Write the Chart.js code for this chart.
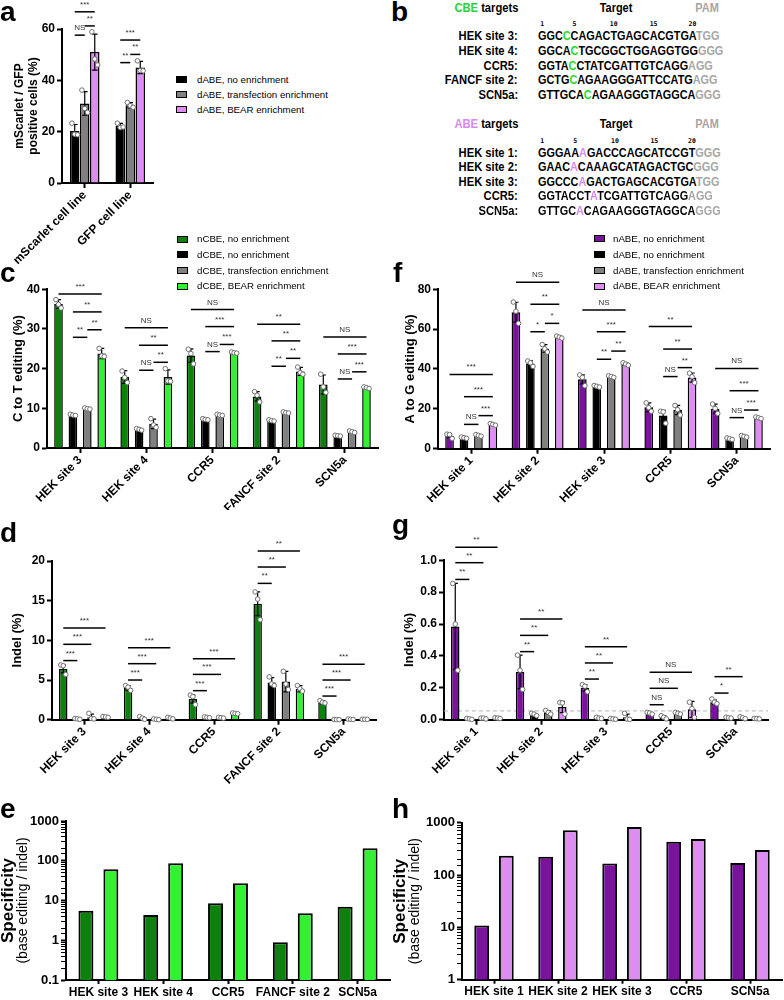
<!DOCTYPE html>
<html>
<head>
<meta charset="utf-8">
<script src="https://cdn.jsdelivr.net/npm/chart.js@4.4.0/dist/chart.umd.min.js"></script>
<style>
  body { margin: 0; width: 784px; height: 1000px; position: relative; overflow: hidden; background: #fff;
         font-family: 'Liberation Sans', Arial, sans-serif; color: #000; }
  canvas { position: absolute; }
  .txt { position: absolute; white-space: nowrap; line-height: 14px; font-size: 13px; font-weight: bold; }
  .letter { position: absolute; font-size: 28px; line-height: 28px; font-weight: bold; }
  .lg-box { position: absolute; width: 9px; height: 5px; border: 1px solid #000; }
  .lg-txt { position: absolute; white-space: nowrap; font-size: 9.7px; line-height: 12px; }
</style>
</head>
<body>
<script>
// ---- Shared labels ----
const cbeSites = ['HEK site 3', 'HEK site 4', 'CCR5', 'FANCF site 2', 'SCN5a'];
const abeSites = ['HEK site 1', 'HEK site 2', 'HEK site 3', 'CCR5', 'SCN5a'];
const cbeLegend = ['nCBE, no enrichment', 'dCBE, no enrichment', 'dCBE, transfection enrichment', 'dCBE, BEAR enrichment'];
const abeLegend = ['nABE, no enrichment', 'dABE, no enrichment', 'dABE, transfection enrichment', 'dABE, BEAR enrichment'];

// ---- a: mScarlet / GFP positive cells (%) ----
const aLines = ['mScarlet cell line', 'GFP cell line'];
const aLegend = ['dABE, no enrichment', 'dABE, transfection enrichment', 'dABE, BEAR enrichment'];
const aNone = [20.3, 22.2], aNoneSd = [2.5, 1.0], aNoneReps = [[23.3, 19.0, 18.8], [23.3, 21.6, 21.8]];
const aTrans = [31.0, 30.3], aTransSd = [4.6, 1.0], aTransReps = [[36.2, 29.0, 27.5], [31.4, 30.1, 29.5]];
const aBear = [51.0, 45.0], aBearSd = [7.0, 2.4], aBearReps = [[58.9, 48.3, 46.0], [47.6, 43.8, 43.7]];
const aBrackets = [[0, 0, 2, 66.7, '***'], [0, 1, 2, 61.2, '**'], [0, 0, 1, 57.6, 'NS'],
                   [1, 0, 2, 55.7, '***'], [1, 1, 2, 50.1, '**'], [1, 0, 1, 46.9, '**']];

// ---- b: target sequences ----
const seqTicks = [1, 5, 10, 15, 20];
const cbeNames = ['HEK site 3:', 'HEK site 4:', 'CCR5:', 'FANCF site 2:', 'SCN5a:'];
const cbeTargets = ['GGCCCAGACTGAGCACGTGA', 'GGCACTGCGGCTGGAGGTGG', 'GGTACCTATCGATTGTCAGG', 'GCTGCAGAAGGGATTCCATG', 'GTTGCACAGAAGGGTAGGCA'];
const cbePams = ['TGG', 'GGG', 'AGG', 'AGG', 'GGG'];
const cbeEdited = [4, 5, 5, 5, 7];
const abeNames = ['HEK site 1:', 'HEK site 2:', 'HEK site 3:', 'CCR5:', 'SCN5a:'];
const abeTargets = ['GGGAAAGACCCAGCATCCGT', 'GAACACAAAGCATAGACTGC', 'GGCCCAGACTGAGCACGTGA', 'GGTACCTATCGATTGTCAGG', 'GTTGCACAGAAGGGTAGGCA'];
const abePams = ['GGG', 'GGG', 'TGG', 'AGG', 'GGG'];
const abeEdited = [6, 5, 6, 8, 6];

// ---- c: C to T editing (%) ----
const cNcbe = [36.3, 17.9, 23.3, 13.0, 16.0], cNcbeSd = [1.1, 1.6, 1.7, 1.2, 2.4];
const cNcbeReps = [[37.4, 36.2, 35.3], [19.4, 17.8, 16.5], [24.9, 23.8, 21.2], [14.2, 13.3, 11.6], [18.6, 15.4, 14.0]];
const cDcbe = [8.3, 4.7, 7.2, 6.9, 3.1], cDcbeSd = [0.2, 0.2, 0.2, 0.2, 0.1];
const cDcbeReps = [[8.5, 8.3, 8.2], [4.9, 4.7, 4.5], [7.4, 7.2, 7.1], [7.1, 6.9, 6.8], [3.2, 3.1, 3.0]];
const cTrans = [9.9, 6.1, 8.3, 8.9, 4.1], cTransSd = [0.2, 1.2, 0.2, 0.2, 0.2];
const cTransReps = [[10.1, 9.9, 9.8], [7.4, 5.8, 5.2], [8.5, 8.3, 8.2], [9.1, 8.9, 8.8], [4.3, 4.1, 3.9]];
const cBear = [23.8, 17.9, 24.0, 19.3, 15.2], cBearSd = [1.3, 1.8, 0.2, 1.0, 0.2];
const cBearReps = [[25.1, 23.2, 23.1], [20.0, 16.9, 16.8], [24.2, 24.0, 23.9], [20.4, 19.0, 18.6], [15.4, 15.2, 15.0]];
const cBrackets = [
  [0, 0, 3, 38.8, '***'], [0, 1, 3, 34.3, '**'], [0, 2, 3, 29.8, '**'], [0, 1, 2, 27.9, '**'],
  [1, 0, 3, 30.3, 'NS'], [1, 1, 3, 25.9, '**'], [1, 2, 3, 21.6, '**'], [1, 1, 2, 19.6, 'NS'],
  [2, 0, 3, 34.9, 'NS'], [2, 1, 3, 30.6, '***'], [2, 2, 3, 26.1, '***'], [2, 1, 2, 24.3, 'NS'],
  [3, 0, 3, 31.2, '**'], [3, 1, 3, 27.0, '**'], [3, 2, 3, 22.6, '**'], [3, 1, 2, 20.6, '**'],
  [4, 0, 3, 28.0, 'NS'], [4, 1, 3, 23.7, '***'], [4, 2, 3, 19.2, '***'], [4, 1, 2, 17.4, 'NS']];

// ---- d: CBE indel (%) ----
const dNcbe = [6.4, 4.0, 2.6, 14.6, 2.2], dNcbeSd = [0.5, 0.3, 0.5, 1.5, 0.2];
const dNcbeReps = [[6.9, 6.8, 5.7], [4.3, 4.1, 3.7], [3.1, 2.9, 1.9], [16.1, 15.2, 12.6], [2.4, 2.2, 2.1]];
const dDcbe = [0.1, 0.2, 0.3, 4.7, 0.01], dDcbeSd = [0.05, 0.15, 0.05, 0.6, 0.01];
const dDcbeReps = [[0.15, 0.1, 0.05], [0.4, 0.2, 0.05], [0.35, 0.3, 0.25], [5.4, 4.5, 4.3], [0.02, 0.01, 0.01]];
const dTrans = [0.3, 0.05, 0.25, 4.8, 0.05], dTransSd = [0.4, 0.05, 0.05, 1.3, 0.03];
const dTransReps = [[0.8, 0.15, 0.1], [0.1, 0.05, 0.0], [0.3, 0.25, 0.2], [6.1, 4.5, 3.8], [0.08, 0.05, 0.03]];
const dBear = [0.35, 0.2, 0.8, 3.9, 0.05], dBearSd = [0.05, 0.1, 0.05, 0.4, 0.01];
const dBearReps = [[0.4, 0.35, 0.3], [0.3, 0.2, 0.1], [0.85, 0.8, 0.75], [4.3, 3.9, 3.6], [0.06, 0.05, 0.04]];
const dBrackets = [
  [0, 0, 3, 11.55, '***'], [0, 0, 2, 9.5, '***'], [0, 0, 1, 7.45, '***'],
  [1, 0, 3, 9.08, '***'], [1, 0, 2, 7.06, '***'], [1, 0, 1, 5.0, '***'],
  [2, 0, 3, 7.69, '***'], [2, 0, 2, 5.71, '***'], [2, 0, 1, 3.66, '***'],
  [3, 0, 3, 21.26, '**'], [3, 0, 2, 19.24, '**'], [3, 0, 1, 17.18, '**'],
  [4, 0, 3, 7.0, '***'], [4, 0, 2, 5.0, '***'], [4, 0, 1, 2.98, '***']];

// ---- e: CBE specificity ----
const eNcbe = [5.5, 4.3, 8.5, 0.89, 7.0];
const eBear = [61, 86, 27, 4.8, 206];

// ---- f: A to G editing (%) ----
const fNabe = [6.5, 68.5, 34.8, 20.8, 20.1], fNabeSd = [1.0, 5.0, 2.3, 2.2, 2.3];
const fNabeReps = [[7.3, 7.1, 5.1], [73.6, 69.0, 62.9], [37.0, 35.8, 31.6], [23.0, 20.6, 18.8], [22.4, 20.2, 17.7]];
const fDabe = [5.5, 42.8, 31.3, 16.7, 5.0], fDabeSd = [0.3, 1.3, 0.4, 2.6, 0.4];
const fDabeReps = [[5.8, 5.5, 5.2], [44.0, 43.1, 41.3], [31.7, 31.3, 30.9], [18.8, 18.5, 12.8], [5.4, 5.0, 4.6]];
const fTrans = [6.7, 50.3, 36.2, 19.4, 6.2], fTransSd = [0.4, 1.9, 0.4, 2.3, 0.4];
const fTransReps = [[7.1, 6.7, 6.3], [52.3, 50.1, 48.5], [36.6, 36.2, 35.8], [21.7, 19.6, 16.9], [6.6, 6.2, 5.8]];
const fBear = [12.2, 56.0, 42.5, 35.7, 15.5], fBearSd = [0.4, 0.5, 0.6, 2.3, 0.4];
const fBearReps = [[12.6, 12.2, 11.8], [56.5, 56.0, 55.5], [43.1, 42.5, 41.9], [37.9, 36.1, 33.1], [15.9, 15.5, 15.1]];
const fBrackets = [
  [0, 0, 3, 37.3, '***'], [0, 1, 3, 26.1, '***'], [0, 2, 3, 16.6, '***'], [0, 1, 2, 12.2, 'NS'],
  [1, 0, 3, 83.5, 'NS'], [1, 1, 3, 72.5, '**'], [1, 2, 3, 62.9, '*'], [1, 1, 2, 58.7, '*'],
  [2, 0, 3, 69.6, 'NS'], [2, 1, 3, 58.7, '***'], [2, 2, 3, 49.0, '**'], [2, 1, 2, 44.9, '**'],
  [3, 0, 3, 61.3, '**'], [3, 1, 3, 50.0, '**'], [3, 2, 3, 40.7, '**'], [3, 1, 2, 36.2, 'NS'],
  [4, 0, 3, 40.3, 'NS'], [4, 1, 3, 29.1, '***'], [4, 2, 3, 19.4, '***'], [4, 1, 2, 15.6, 'NS']];

// ---- g: ABE indel (%) ----
const gNabe = [0.585, 0.30, 0.20, 0.04, 0.11], gNabeSd = [0.27, 0.105, 0.02, 0.005, 0.013];
const gNabeReps = [[0.855, 0.60, 0.31], [0.405, 0.31, 0.19], [0.22, 0.21, 0.175], [0.046, 0.042, 0.035], [0.13, 0.11, 0.10]];
const gDabe = [0.005, 0.03, 0.01, 0.015, 0.012], gDabeSd = [0.003, 0.008, 0.005, 0.01, 0.004];
const gDabeReps = [[0.008, 0.005, 0.002], [0.04, 0.035, 0.025], [0.015, 0.01, 0.008], [0.025, 0.015, 0.005], [0.016, 0.012, 0.01]];
const gTrans = [0.008, 0.045, 0.005, 0.04, 0.012], gTransSd = [0.003, 0.01, 0.003, 0.006, 0.005];
const gTransReps = [[0.01, 0.01, 0.005], [0.058, 0.045, 0.035], [0.008, 0.005, 0.003], [0.046, 0.04, 0.035], [0.018, 0.012, 0.006]];
const gBear = [0.01, 0.08, 0.015, 0.065, 0.007], gBearSd = [0.002, 0.035, 0.02, 0.05, 0.002];
const gBearReps = [[0.012, 0.01, 0.008], [0.108, 0.105, 0.035], [0.04, 0.004, 0.002], [0.11, 0.07, 0.015], [0.008, 0.007, 0.005]];
const gBrackets = [
  [0, 0, 3, 1.082, '**'], [0, 0, 2, 0.985, '**'], [0, 0, 1, 0.88, '**'],
  [1, 0, 3, 0.632, '**'], [1, 0, 2, 0.529, '**'], [1, 0, 1, 0.427, '**'],
  [2, 0, 3, 0.458, '**'], [2, 0, 2, 0.356, '**'], [2, 0, 1, 0.255, '**'],
  [3, 0, 3, 0.297, 'NS'], [3, 0, 2, 0.197, 'NS'], [3, 0, 1, 0.094, 'NS'],
  [4, 0, 2, 0.27, '**'], [4, 0, 1, 0.167, '*']];
const gDetectLimit = 0.055;

// ---- h: ABE specificity ----
const hNabe = [10.8, 224, 167, 433, 169];
const hBear = [234, 714, 826, 488, 301];

// ---- colours ----
const DK_GREEN = '#0d800d', LT_GREEN = '#33f033', GREY = '#808080', PURPLE = '#7a129e', PINK = '#dd8cf2';

Chart.defaults.font.family = "'Liberation Sans', Arial, sans-serif";
Chart.defaults.color = '#000';

function isDecade(v) {
  const l = Math.log10(v);
  return Math.abs(l - Math.round(l)) < 1e-6;
}

// error bars, replicate dots, significance brackets, extra axis titles
function decor(o) {
  return {
    id: 'decor',
    beforeDatasetsDraw(chart) {
      if (o.limit == null) return;
      const ctx = chart.ctx, a = chart.chartArea, py = chart.scales.y.getPixelForValue(o.limit);
      ctx.save();
      ctx.setLineDash([4, 3]); ctx.strokeStyle = '#b5b5b5'; ctx.lineWidth = 1;
      ctx.beginPath(); ctx.moveTo(a.left, py); ctx.lineTo(a.right, py); ctx.stroke();
      ctx.restore();
    },
    afterDatasetsDraw(chart) {
      const ctx = chart.ctx, ys = chart.scales.y;
      ctx.save();
      chart.data.datasets.forEach((ds, di) => {
        chart.getDatasetMeta(di).data.forEach((bar, i) => {
          const w = bar.width;
          if (ds.sd) {
            const m = ds.data[i], s = ds.sd[i];
            const top = ys.getPixelForValue(m + s);
            const low = m - s > ys.min;
            const bot = ys.getPixelForValue(low ? m - s : ys.min);
            ctx.strokeStyle = '#000'; ctx.lineWidth = 1.2;
            ctx.beginPath();
            ctx.moveTo(bar.x, top); ctx.lineTo(bar.x, bot);
            ctx.moveTo(bar.x - w * 0.3, top); ctx.lineTo(bar.x + w * 0.3, top);
            if (low) { ctx.moveTo(bar.x - w * 0.3, bot); ctx.lineTo(bar.x + w * 0.3, bot); }
            ctx.stroke();
          }
          if (ds.reps) {
            ds.reps[i].forEach((v, k) => {
              ctx.beginPath();
              ctx.arc(bar.x + (k - 1) * w * 0.3, ys.getPixelForValue(v), 2.3, 0, Math.PI * 2);
              ctx.fillStyle = '#fff'; ctx.fill();
              ctx.strokeStyle = '#707070'; ctx.lineWidth = 1; ctx.stroke();
            });
          }
        });
      });
      (o.brackets || []).forEach(([g, a, b, v, label]) => {
        const xa = chart.getDatasetMeta(a).data[g].x, xb = chart.getDatasetMeta(b).data[g].x;
        const py = ys.getPixelForValue(v);
        ctx.strokeStyle = '#000'; ctx.lineWidth = 1.5;
        ctx.beginPath(); ctx.moveTo(xa, py); ctx.lineTo(xb, py); ctx.stroke();
        ctx.fillStyle = '#333'; ctx.font = "8px 'Liberation Sans', Arial";
        ctx.textAlign = 'center'; ctx.textBaseline = 'alphabetic';
        ctx.fillText(label, (xa + xb) / 2, py - 5);
      });
      ctx.restore();
    },
    afterDraw(chart) {
      if (!o.titles) return;
      const ctx = chart.ctx, a = chart.chartArea;
      o.titles.forEach(([text, x, font]) => {
        ctx.save();
        ctx.translate(x, (a.top + a.bottom) / 2);
        ctx.rotate(-Math.PI / 2);
        ctx.font = font; ctx.fillStyle = '#000';
        ctx.textAlign = 'center'; ctx.textBaseline = 'middle';
        ctx.fillText(text, 0, 0);
        ctx.restore();
      });
    }
  };
}

function barChart(box, labels, series, o) {
  const cv = document.createElement('canvas');
  cv.width = box.w; cv.height = box.h;
  cv.style.left = box.x + 'px'; cv.style.top = box.y + 'px';
  document.body.appendChild(cv);

  const yTicks = { autoSkip: false, color: '#000', font: { size: o.tickSize || 12, weight: 'bold' }, padding: 2 };
  if (o.step) yTicks.stepSize = o.step;
  if (o.fmt) yTicks.callback = o.fmt;
  const yGrid = { drawOnChartArea: false, tickLength: 5, tickColor: '#000', tickWidth: 2 };
  if (o.log) yGrid.tickWidth = c => (c.tick && isDecade(c.tick.value) ? 2 : 1);

  return new Chart(cv, {
    type: 'bar',
    data: {
      labels,
      datasets: series.map(s => ({
        label: s.label, data: s.data, sd: s.sd, reps: s.reps,
        backgroundColor: s.color, borderColor: '#000', borderWidth: o.bw || 1.5,
        categoryPercentage: o.cat, barPercentage: o.bar
      }))
    },
    options: {
      responsive: false, animation: false, devicePixelRatio: 1,
      layout: { padding: { top: box.top, right: box.right, left: 0, bottom: 0 } },
      plugins: { legend: { display: false }, tooltip: { enabled: false } },
      scales: {
        x: {
          offset: true,
          ticks: { color: '#000', font: { size: 12, weight: 'bold' }, minRotation: o.rot, maxRotation: o.rot, autoSkip: false, padding: o.rot ? 0 : 1 },
          grid: { offset: false, drawOnChartArea: false, tickLength: o.rot ? 5 : 4, tickColor: '#000', tickWidth: 2 },
          border: { color: '#000', width: 2 },
          afterFit: s => { s.height = box.xH; s.paddingLeft = 0; s.paddingRight = 0; }
        },
        y: {
          type: o.log ? 'logarithmic' : 'linear',
          min: o.min, max: o.max,
          ticks: yTicks,
          grid: yGrid,
          border: { color: '#000', width: 2 },
          title: { display: !!o.title, text: o.title || '', color: '#000', font: { size: o.titleSize || 13, weight: 'bold' }, padding: { top: o.titlePad || 0, bottom: 0 } },
          afterFit: s => { s.width = box.yW; }
        }
      }
    },
    plugins: [decor(o)]
  });
}

// ---- text helpers ----
function addText(html, css, cls) {
  const d = document.createElement('div');
  d.className = cls || 'txt';
  d.innerHTML = html;
  Object.assign(d.style, css);
  document.body.appendChild(d);
  return d;
}

function legend(boxLeft, txtLeft, centers, labels, colors) {
  labels.forEach((t, i) => {
    const b = document.createElement('div');
    b.className = 'lg-box';
    b.style.left = boxLeft + 'px'; b.style.top = (centers[i] - 3.5) + 'px'; b.style.background = colors[i];
    document.body.appendChild(b);
    addText(t, { left: txtLeft + 'px', top: (centers[i] - 6) + 'px' }, 'lg-txt');
  });
}

// base: y of the header text baseline
function seqBlock(base, tag, tagColor, names, targets, pams, edited, hiColor) {
  const narrow = { transform: 'scaleX(0.86)', transformOrigin: 'right center' };
  addText(`<span style="color:${tagColor}">${tag}</span> targets`, Object.assign({ right: '266px', top: (base - 11.5) + 'px' }, narrow));
  addText('Target', { left: '616px', top: (base - 11.5) + 'px', transform: 'translateX(-50%) scaleX(0.84)' });
  addText('PAM', { left: '707px', top: (base - 11.5) + 'px', color: '#a6a6a6', transform: 'translateX(-50%) scaleX(0.84)' });
  let first = null;
  names.forEach((nm, i) => {
    const bl = base + 28.8 + i * 14.6;
    addText(nm, Object.assign({ right: '266px', top: (bl - 11.5) + 'px' }, narrow));
    const chars = targets[i].split('').map((ch, k) =>
      k + 1 === edited[i] ? `<span style="color:${hiColor}">${ch}</span>` : `<span>${ch}</span>`).join('');
    const row = addText(chars + `<span style="color:#a6a6a6">${pams[i]}</span>`,
      { left: '538px', top: (bl - 11.5) + 'px', transform: 'scaleX(0.835)', transformOrigin: 'left center' });
    if (!first) first = row;
  });
  seqTicks.forEach(n => {
    const r = first.children[n - 1].getBoundingClientRect();
    addText(String(n), { left: (r.left + r.width / 2) + 'px', top: (base + 14.5 - 6.3) + 'px', fontSize: '6.5px', lineHeight: '8px',
      fontFamily: "'DejaVu Sans Mono', monospace", transform: 'translateX(-50%)' });
  });
}

// ---- a ----
barChart({ x: 0, y: 0, w: 175, h: 265, top: 29, right: 22, yW: 62, xH: 82 }, aLines, [
  { label: aLegend[0], data: aNone, sd: aNoneSd, reps: aNoneReps, color: '#000' },
  { label: aLegend[1], data: aTrans, sd: aTransSd, reps: aTransReps, color: GREY },
  { label: aLegend[2], data: aBear, sd: aBearSd, reps: aBearReps, color: PINK }
], { min: 0, max: 60, step: 20, rot: 45, cat: 0.66, bar: 0.95, title: ['mScarlet / GFP', 'positive cells (%)'], titleSize: 12, titlePad: 12, brackets: aBrackets });

// ---- c ----
barChart({ x: 0, y: 250, w: 392, h: 260, top: 39.3, right: 14, yW: 47, xH: 62 }, cbeSites, [
  { label: cbeLegend[0], data: cNcbe, sd: cNcbeSd, reps: cNcbeReps, color: DK_GREEN },
  { label: cbeLegend[1], data: cDcbe, sd: cDcbeSd, reps: cDcbeReps, color: '#000' },
  { label: cbeLegend[2], data: cTrans, sd: cTransSd, reps: cTransReps, color: GREY },
  { label: cbeLegend[3], data: cBear, sd: cBearSd, reps: cBearReps, color: LT_GREEN }
], { min: 0, max: 40, step: 10, rot: 45, cat: 0.87, bar: 0.6, title: 'C to T editing (%)', titlePad: 11, brackets: cBrackets });

// ---- f ----
barChart({ x: 392, y: 250, w: 392, h: 260, top: 39.3, right: 14, yW: 46, xH: 61.3 }, abeSites, [
  { label: abeLegend[0], data: fNabe, sd: fNabeSd, reps: fNabeReps, color: PURPLE },
  { label: abeLegend[1], data: fDabe, sd: fDabeSd, reps: fDabeReps, color: '#000' },
  { label: abeLegend[2], data: fTrans, sd: fTransSd, reps: fTransReps, color: GREY },
  { label: abeLegend[3], data: fBear, sd: fBearSd, reps: fBearReps, color: PINK }
], { min: 0, max: 80, step: 20, rot: 45, cat: 0.87, bar: 0.6, title: 'A to G editing (%)', titlePad: 11, brackets: fBrackets });

// ---- d ----
barChart({ x: 0, y: 510, w: 392, h: 280, top: 51, right: 16, yW: 52, xH: 70.3 }, cbeSites, [
  { label: cbeLegend[0], data: dNcbe, sd: dNcbeSd, reps: dNcbeReps, color: DK_GREEN },
  { label: cbeLegend[1], data: dDcbe, sd: dDcbeSd, reps: dDcbeReps, color: '#000' },
  { label: cbeLegend[2], data: dTrans, sd: dTransSd, reps: dTransReps, color: GREY },
  { label: cbeLegend[3], data: dBear, sd: dBearSd, reps: dBearReps, color: LT_GREEN }
], { min: 0, max: 20, step: 5, rot: 45, cat: 0.87, bar: 0.6, title: 'Indel (%)', titlePad: 10, brackets: dBrackets });

// ---- g ----
barChart({ x: 392, y: 510, w: 392, h: 280, top: 50.3, right: 16, yW: 52, xH: 70.3 }, abeSites, [
  { label: abeLegend[0], data: gNabe, sd: gNabeSd, reps: gNabeReps, color: PURPLE },
  { label: abeLegend[1], data: gDabe, sd: gDabeSd, reps: gDabeReps, color: '#000' },
  { label: abeLegend[2], data: gTrans, sd: gTransSd, reps: gTransReps, color: GREY },
  { label: abeLegend[3], data: gBear, sd: gBearSd, reps: gBearReps, color: PINK }
], { min: 0, max: 1.0, step: 0.2, fmt: v => v.toFixed(1), rot: 45, cat: 0.87, bar: 0.6, title: 'Indel (%)', titlePad: 10, brackets: gBrackets, limit: gDetectLimit });

// ---- e / h: two-line specificity titles drawn by the plugin ----
const specTitles = [['Specificity', 8, "bold 17px 'Liberation Sans', Arial"], ['(base editing / indel)', 23, "14px 'Liberation Sans', Arial"]];

barChart({ x: 0, y: 790, w: 392, h: 210, top: 31, right: 2, yW: 66, xH: 20 }, cbeSites, [
  { label: 'nCBE, no enrichment', data: eNcbe, color: DK_GREEN },
  { label: 'dCBE, BEAR enrichment', data: eBear, color: LT_GREEN }
], { log: true, min: 0.1, max: 1000, fmt: v => (isDecade(v) ? String(v) : ''), tickSize: 13, rot: 0, cat: 0.77, bar: 0.6, bw: 2, titles: specTitles });

barChart({ x: 392, y: 790, w: 392, h: 210, top: 32.7, right: 2, yW: 70, xH: 20.3 }, abeSites, [
  { label: 'nABE, no enrichment', data: hNabe, color: PURPLE },
  { label: 'dABE, BEAR enrichment', data: hBear, color: PINK }
], { log: true, min: 1, max: 1000, fmt: v => (isDecade(v) ? String(v) : ''), tickSize: 13, rot: 0, cat: 0.77, bar: 0.6, bw: 2, titles: specTitles });

// ---- legends ----
legend(176, 197, [79.5, 94.5, 109.5], aLegend, ['#000', GREY, PINK]);
legend(177, 197, [239, 254.7, 270.5, 286], cbeLegend, [DK_GREEN, '#000', GREY, LT_GREEN]);
legend(594, 613, [238.5, 254.7, 270.5, 286], abeLegend, [PURPLE, '#000', GREY, PINK]);

// ---- b ----
seqBlock(12, 'CBE', '#2fd12f', cbeNames, cbeTargets, cbePams, cbeEdited, '#22dd22');
seqBlock(128.3, 'ABE', '#d889ee', abeNames, abeTargets, abePams, abeEdited, '#d889ee');

// ---- panel letters ----
[['a', 0, 22], ['b', 391, 22], ['c', 0, 283], ['f', 393, 283], ['d', 0, 542.7], ['g', 392, 534.5], ['e', 0, 818.3], ['h', 392, 818.3]]
  .forEach(([t, x, bl]) => addText(t, { left: x + 'px', top: (bl - 23.7) + 'px' }, 'letter'));
</script>
</body>
</html>
